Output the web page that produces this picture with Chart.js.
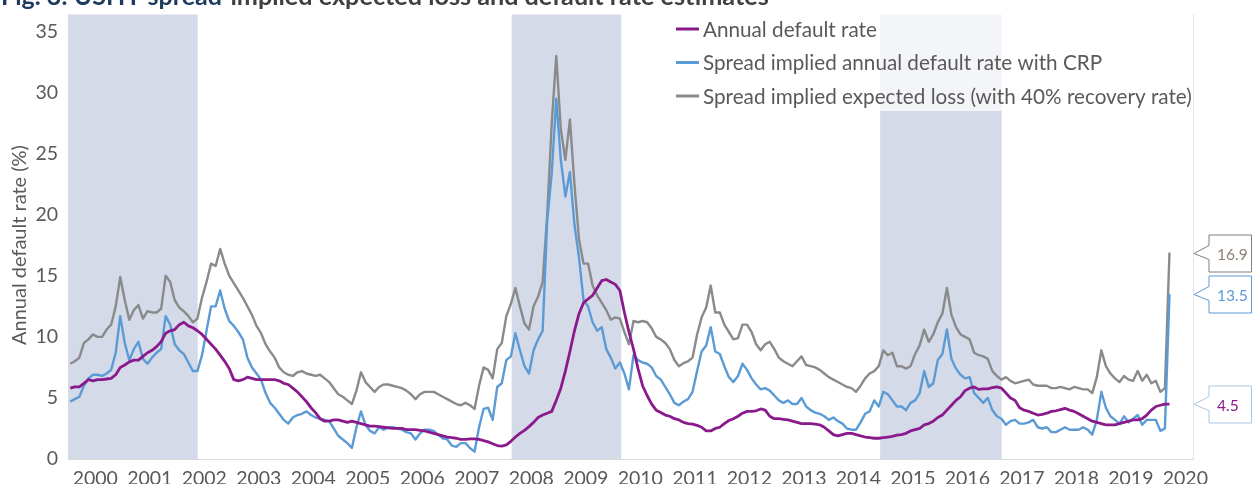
<!DOCTYPE html>
<html>
<head>
<meta charset="utf-8">
<script src="https://cdn.jsdelivr.net/npm/chart.js@4.4.1/dist/chart.umd.min.js"></script>
<style>
  html, body { margin: 0; padding: 0; background: #fff; }
  #wrap { width: 1255px; height: 484px; }
</style>
</head>
<body>
<div id="wrap"><canvas id="chart" width="1255" height="484"></canvas></div>
<script>
// monthly series, Jan 2000 .. Mar 2020
const startYear = 2000;
const yearTicks = [2000, 2001, 2002, 2003, 2004, 2005, 2006, 2007, 2008, 2009, 2010,
                   2011, 2012, 2013, 2014, 2015, 2016, 2017, 2018, 2019, 2020];
const seriesLabels = [
    'Annual default rate',
    'Spread implied annual default rate with CRP',
    'Spread implied expected loss (with 40% recovery rate)'
];

const defaultRate = [
    5.8, 5.9, 5.9, 6.2, 6.5, 6.4, 6.5, 6.5, 6.55, 6.6, 6.9, 7.5,
    7.7, 7.95, 8.1, 8.1, 8.4, 8.7, 8.9, 9.2, 9.6, 10.3, 10.5, 10.6,
    11.0, 11.2, 10.9, 10.75, 10.5, 10.2, 9.8, 9.4, 9.0, 8.5, 8.0, 7.4,
    6.5, 6.4, 6.5, 6.7, 6.6, 6.5, 6.5, 6.5, 6.5, 6.5, 6.4, 6.2,
    6.1, 5.8, 5.5, 5.1, 4.7, 4.2, 3.8, 3.3, 3.1, 3.1, 3.2, 3.2,
    3.1, 3.0, 3.1, 3.0, 2.9, 2.8, 2.7, 2.7, 2.65, 2.6, 2.55, 2.5,
    2.5, 2.5, 2.4, 2.4, 2.4, 2.35, 2.3, 2.2, 2.1, 2.0, 1.9, 1.8,
    1.75, 1.7, 1.6, 1.6, 1.65, 1.65, 1.6, 1.5, 1.4, 1.25, 1.1, 1.05,
    1.15, 1.45, 1.8, 2.1, 2.35, 2.65, 3.0, 3.4, 3.6, 3.75, 3.9, 4.8,
    5.8, 7.2, 8.8, 10.5, 11.9, 12.8, 13.1, 13.4, 14.0, 14.6, 14.7, 14.5,
    14.3, 13.8, 12.0, 10.4, 9.0, 7.4, 6.0, 5.2, 4.5, 4.0, 3.8, 3.6,
    3.5, 3.3, 3.2, 3.0, 2.9, 2.85, 2.75, 2.6, 2.3, 2.3, 2.5, 2.6,
    2.9, 3.15, 3.3, 3.5, 3.75, 3.9, 3.9, 3.95, 4.1, 4.0, 3.5, 3.3,
    3.3, 3.25, 3.2, 3.1, 3.0, 2.9, 2.9, 2.9, 2.85, 2.8, 2.6, 2.3,
    2.0, 1.9, 2.0, 2.1, 2.1, 2.0, 1.9, 1.8, 1.75, 1.7, 1.7, 1.75,
    1.8, 1.85, 1.95, 2.0, 2.1, 2.3, 2.4, 2.5, 2.8, 2.9, 3.1, 3.4,
    3.6, 4.0, 4.4, 4.8, 5.1, 5.6, 5.8, 5.9, 5.7, 5.75, 5.75, 5.85,
    5.9, 5.8, 5.4, 5.0, 4.8, 4.2, 4.0, 3.9, 3.75, 3.6, 3.65, 3.75,
    3.9, 3.95, 4.05, 4.15, 4.0, 3.9, 3.7, 3.5, 3.3, 3.1, 3.0, 2.9,
    2.8, 2.8, 2.8, 2.9, 3.0, 3.1, 3.2, 3.2, 3.3, 3.6, 4.0, 4.3,
    4.4, 4.5, 4.5
];

const impliedDefault = [
    4.7, 4.9, 5.1, 6.0, 6.6, 6.9, 6.9, 6.8, 7.0, 7.3, 8.7, 11.7,
    9.5, 8.1, 9.0, 9.6, 8.2, 7.8, 8.3, 8.7, 9.0, 11.7, 11.0, 9.4,
    8.9, 8.6, 7.9, 7.2, 7.2, 8.5, 10.5, 12.5, 12.5, 13.8, 12.3, 11.3,
    10.9, 10.4, 9.8, 8.3, 7.5, 7.0, 6.5, 5.4, 4.6, 4.2, 3.7, 3.2,
    2.9, 3.4, 3.6, 3.7, 3.9, 3.6, 3.4, 3.3, 3.2, 3.1, 2.5, 1.9,
    1.6, 1.3, 0.9, 2.6, 3.9, 2.8, 2.3, 2.1, 2.6, 2.4, 2.6, 2.6,
    2.5, 2.4, 2.2, 2.1, 1.6, 2.1, 2.4, 2.4, 2.3, 2.0, 1.7, 1.6,
    1.1, 1.0, 1.3, 1.3, 0.9, 0.6, 2.6, 4.1, 4.2, 3.2, 5.9, 6.2,
    8.1, 8.4, 10.3, 8.9, 7.6, 7.0, 8.9, 9.8, 10.5, 19.5, 23.4, 29.5,
    24.5, 21.5, 23.5, 19.2, 16.5, 13.0, 12.5, 11.2, 10.5, 10.8, 9.0, 8.3,
    7.4, 7.9, 7.0, 5.7, 8.5, 8.1, 7.9, 7.8, 7.5, 6.8, 6.5, 5.9,
    5.3, 4.6, 4.4, 4.7, 4.9, 5.5, 7.2, 8.8, 9.3, 10.8, 8.8, 8.6,
    7.6, 6.7, 6.3, 6.8, 7.8, 7.3, 6.6, 6.1, 5.7, 5.8, 5.6, 5.2,
    4.8, 4.6, 4.8, 4.5, 4.5, 5.0, 4.3, 4.0, 3.8, 3.7, 3.5, 3.2,
    3.4, 3.1, 2.9, 2.5, 2.4, 2.4, 3.0, 3.7, 3.9, 4.8, 4.3, 5.5,
    5.3, 4.8, 4.3, 4.3, 4.0, 4.6, 4.8, 5.4, 7.2, 5.9, 6.2, 8.1,
    8.6, 10.6, 8.2, 7.4, 6.9, 6.6, 6.7, 5.4, 5.0, 4.6, 5.0, 4.0,
    3.5, 3.3, 2.8, 3.1, 3.2, 2.9, 2.9, 3.0, 3.2, 2.6, 2.5, 2.6,
    2.2, 2.2, 2.4, 2.6, 2.4, 2.4, 2.4, 2.6, 2.4, 2.0, 3.2, 5.5,
    4.2, 3.5, 3.2, 2.9, 3.5, 3.0, 3.3, 3.6, 2.8, 3.2, 3.2, 3.2,
    2.3, 2.5, 13.5
];

const impliedLoss = [
    7.8, 8.0, 8.3, 9.5, 9.8, 10.2, 10.0, 10.0, 10.6, 11.0, 12.5, 14.9,
    13.0, 11.4, 12.2, 12.6, 11.5, 12.1, 12.0, 12.0, 12.3, 15.0, 14.5, 13.0,
    12.4, 12.1, 11.7, 11.2, 11.5, 13.2, 14.5, 16.0, 15.8, 17.2, 16.0, 15.0,
    14.4, 13.8, 13.2, 12.5, 11.8, 10.9, 10.3, 9.4, 8.8, 8.3, 7.5, 7.1,
    6.9, 6.8, 7.1, 7.2, 7.0, 6.9, 6.8, 6.9, 6.6, 6.3, 5.8, 5.3,
    5.1, 4.8, 4.5, 5.6, 7.1, 6.3, 5.9, 5.5, 5.9, 6.1, 6.1, 6.0,
    5.9, 5.8, 5.6, 5.3, 4.9, 5.3, 5.5, 5.5, 5.5, 5.3, 5.1, 4.9,
    4.7, 4.5, 4.4, 4.6, 4.4, 4.1, 6.0, 7.5, 7.3, 6.6, 9.0, 9.5,
    11.7, 12.7, 14.0, 12.5, 11.1, 10.6, 12.5, 13.3, 14.5, 20.0, 27.5, 33.0,
    27.0, 24.5, 27.8, 22.5, 18.0, 16.0, 16.0, 14.2, 13.4, 12.8, 12.2, 11.4,
    11.6, 11.5, 10.4, 9.4, 11.3, 11.2, 11.3, 11.2, 10.7, 10.0, 9.8, 9.5,
    9.0, 8.1, 7.6, 7.85, 8.0, 8.3, 10.2, 11.6, 12.4, 14.2, 12.0, 12.0,
    11.0, 10.4, 9.8, 9.9, 11.0, 11.0, 10.4, 9.4, 8.9, 9.4, 9.6, 9.0,
    8.3, 8.0, 7.8, 7.6, 8.0, 8.4, 7.7, 7.6, 7.5, 7.3, 7.0, 6.7,
    6.5, 6.3, 6.1, 5.9, 5.8, 5.5, 6.0, 6.6, 7.0, 7.2, 7.6, 8.9,
    8.5, 8.7, 7.6, 7.6, 7.4, 7.6, 8.6, 9.3, 10.6, 9.6, 10.2, 11.2,
    11.9, 14.0, 11.8, 10.8, 10.2, 10.0, 9.8, 8.7, 8.5, 8.4, 8.2, 7.2,
    6.8, 6.5, 6.7, 6.4, 6.2, 6.3, 6.4, 6.5, 6.1, 6.0, 6.0, 6.0,
    5.8, 5.8, 5.9, 5.8, 5.7, 5.9, 5.8, 5.7, 5.7, 5.4, 6.7, 8.9,
    7.6, 7.0, 6.6, 6.3, 6.8, 6.5, 6.4, 7.2, 6.4, 6.9, 6.2, 6.4,
    5.5, 5.8, 16.9
];

// shaded periods, decimal years
const shadeStart = [2000.0, 2008.14, 2014.9];
const shadeEnd = [2002.38, 2010.15, 2017.13];

const toPoints = arr => arr.map((v, i) => ({x: startYear + (i + 0.5) / 12, y: v}));

const colors = ['#8A1A8C', '#5B9BD5', '#8A8A8A'];
const calloutBorder = ['#A9C6E6', '#5B9BD5', '#7F7F7F'];
const calloutText = ['#8A1A8C', '#5B9BD5', '#8C8174'];
const txt = '#595959';
const FONT = 'Lato, "Open Sans", sans-serif';

const shading = {
    id: 'shading',
    beforeDatasetsDraw(chart) {
        const {ctx, chartArea: a, scales: {x}} = chart;
        ctx.save();
        ctx.fillStyle = '#D4DAE8';
        shadeStart.forEach((s, i) => {
            const x0 = Math.max(x.getPixelForValue(s), a.left);
            const x1 = Math.min(x.getPixelForValue(shadeEnd[i]), a.right);
            ctx.fillRect(x0, a.top, x1 - x0, a.bottom - a.top);
        });
        ctx.restore();
    }
};

const boxLegend = {
    id: 'boxLegend',
    afterDatasetsDraw(chart) {
        const {ctx} = chart;
        ctx.save();
        ctx.fillStyle = 'rgba(255,255,255,0.72)';
        ctx.fillRect(664, 10, 532, 101);
        ctx.font = '20.7px ' + FONT;
        ctx.textBaseline = 'middle';
        chart.data.datasets.forEach((ds, i) => {
            const y = 29 + i * 33.5;
            ctx.strokeStyle = ds.borderColor;
            ctx.lineWidth = 3;
            ctx.beginPath();
            ctx.moveTo(676, y);
            ctx.lineTo(699, y);
            ctx.stroke();
            ctx.fillStyle = txt;
            ctx.fillText(ds.label, 703, y + 1);
        });
        ctx.restore();
    }
};

const yTitle = {
    id: 'yTitle',
    afterDraw(chart) {
        const {ctx} = chart;
        ctx.save();
        ctx.translate(20, 245);
        ctx.rotate(-Math.PI / 2);
        ctx.font = '20px ' + FONT;
        ctx.fillStyle = txt;
        ctx.textAlign = 'center';
        ctx.textBaseline = 'middle';
        ctx.fillText('Annual default rate (%)', 0, 0);
        ctx.restore();
    }
};

const callouts = {
    id: 'callouts',
    afterDraw(chart) {
        const {ctx, chartArea: a, scales: {y}} = chart;
        ctx.save();
        // faint right edge of plot
        ctx.strokeStyle = '#E4E4E4';
        ctx.lineWidth = 1;
        ctx.beginPath();
        ctx.moveTo(a.right + 0.5, a.top);
        ctx.lineTo(a.right + 0.5, a.bottom);
        ctx.stroke();

        ctx.font = '15.5px ' + FONT;
        ctx.textBaseline = 'middle';
        chart.data.datasets.forEach((ds, i) => {
            const last = ds.data[ds.data.length - 1].y;
            const py = Math.round(y.getPixelForValue(last)) + 0.5;
            const tip = a.right + 1, xb = tip + 15, xr = 1251.5, h = 18.5;
            ctx.beginPath();
            ctx.moveTo(xb, py - h);
            ctx.lineTo(xr, py - h);
            ctx.lineTo(xr, py + h);
            ctx.lineTo(xb, py + h);
            ctx.lineTo(xb, py + 6);
            ctx.lineTo(tip, py);
            ctx.lineTo(xb, py - 8);
            ctx.closePath();
            ctx.fillStyle = '#fff';
            ctx.fill();
            ctx.strokeStyle = calloutBorder[i];
            ctx.lineWidth = 1;
            ctx.stroke();
            ctx.fillStyle = calloutText[i];
            ctx.fillText(last.toFixed(1), xb + 8, py + 1);
        });
        ctx.restore();
    }
};

const topTitle = {
    id: 'topTitle',
    afterDraw(chart) {
        const {ctx} = chart;
        ctx.save();
        ctx.textBaseline = 'alphabetic';
        ctx.font = 'bold 25px ' + FONT;
        ctx.fillStyle = '#1F3A5F';
        ctx.fillText('Fig. 3: USHY spread', 1, 5);
        ctx.font = 'bold 25.2px ' + FONT;
        ctx.fillStyle = '#404040';
        ctx.fillText('-implied expected loss and default rate estimates', 221, 5);
        ctx.restore();
    }
};

const datasets = [defaultRate, impliedDefault, impliedLoss].map((arr, i) => ({
    label: seriesLabels[i],
    data: toPoints(arr),
    borderColor: colors[i],
    backgroundColor: colors[i],
    borderWidth: i === 0 ? 2.8 : 2.4,
    pointRadius: 0,
    tension: 0,
    borderJoinStyle: 'round'
}));

new Chart(document.getElementById('chart'), {
    type: 'line',
    data: {datasets},
    options: {
        responsive: false,
        animation: false,
        layout: {padding: {top: 0, right: 62, left: 0, bottom: 0}},
        plugins: {
            legend: {display: false},
            tooltip: {enabled: false}
        },
        scales: {
            x: {
                type: 'linear',
                min: 2000,
                max: 2020.64,
                grid: {display: false, drawTicks: false},
                border: {display: true, color: '#D9D9D9', width: 1},
                afterBuildTicks: scale => {
                    scale.ticks = yearTicks.map(v => ({value: v + 0.5}));
                },
                afterFit: scale => { scale.height = 25; },
                ticks: {
                    autoSkip: false,
                    maxRotation: 0,
                    padding: 8,
                    color: txt,
                    font: {family: FONT, size: 19.5},
                    callback: v => String(Math.floor(v))
                }
            },
            y: {
                min: 0,
                max: 36.4,
                grid: {display: false, drawTicks: false},
                border: {display: true, color: '#D9D9D9', width: 1},
                afterBuildTicks: scale => {
                    scale.ticks = [0, 5, 10, 15, 20, 25, 30, 35].map(v => ({value: v}));
                },
                afterFit: scale => { scale.width = 68; },
                ticks: {
                    padding: 10,
                    color: txt,
                    // small lineHeight keeps the label half-height + padding at ~14.5px above the plot
                    font: {family: FONT, size: 19.5, lineHeight: 0.46}
                }
            }
        }
    },
    plugins: [shading, boxLegend, yTitle, callouts, topTitle]
});
</script>
</body>
</html>
